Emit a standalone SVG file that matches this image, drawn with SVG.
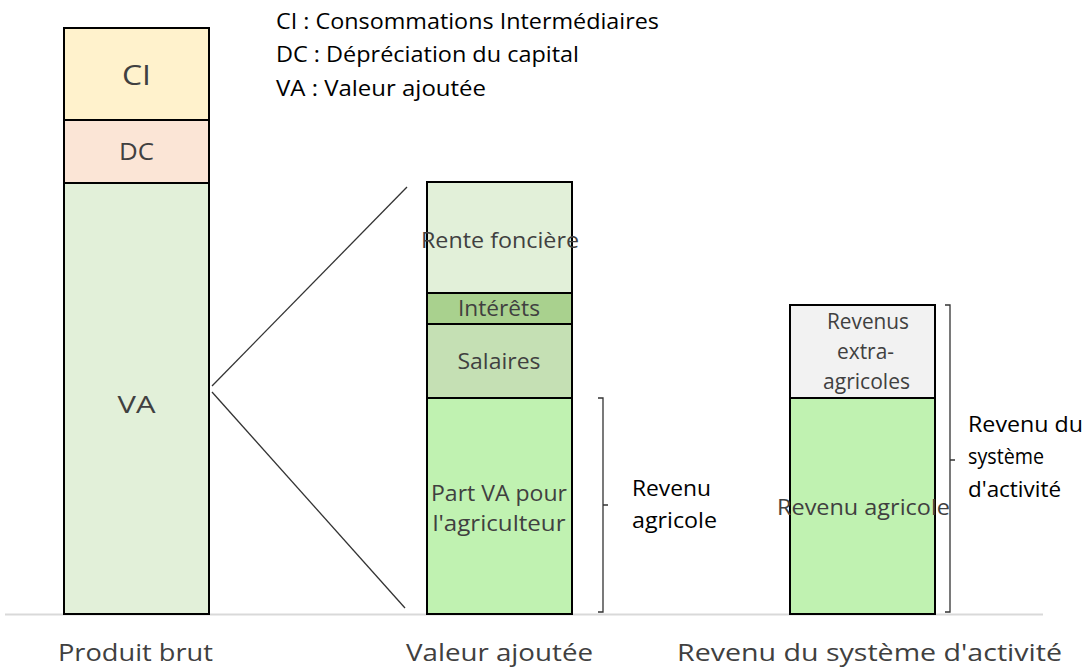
<svg xmlns="http://www.w3.org/2000/svg" width="1086" height="668" viewBox="0 0 1086 668">
<style>
.bar{stroke:#000;stroke-width:2}
.t{font-family:"Open Sans","Noto Sans",sans-serif;fill:#404040;text-anchor:middle}
.k{font-family:"Open Sans","Noto Sans",sans-serif;fill:#000}
.ln{stroke:#333;stroke-width:1.3;fill:none}
</style>
<rect width="1086" height="668" fill="#fff"/>
<line x1="5" y1="614.5" x2="1043" y2="614.5" stroke="#d9d9d9" stroke-width="2"/>
<g id="legend" class="k" font-size="21">
<text x="276" y="29" textLength="383" lengthAdjust="spacingAndGlyphs">CI : Consommations Intermédiaires</text>
<text x="276" y="62" textLength="303" lengthAdjust="spacingAndGlyphs">DC : Dépréciation du capital</text>
<text x="276" y="96" textLength="210" lengthAdjust="spacingAndGlyphs">VA : Valeur ajoutée</text>
</g>
<g id="ci"><rect class="bar" x="64" y="28" width="145" height="92" fill="#FFF2CC"/><text class="t" x="136.5" y="85" font-size="28" textLength="29" lengthAdjust="spacingAndGlyphs">CI</text></g>
<g id="dc"><rect class="bar" x="64" y="120" width="145" height="63" fill="#FBE5D6"/><text class="t" x="136.5" y="160" font-size="23" textLength="35" lengthAdjust="spacingAndGlyphs">DC</text></g>
<g id="va"><rect class="bar" x="64" y="183" width="145" height="431" fill="#E2F0D9"/><text class="t" x="136.5" y="413" font-size="23" textLength="38" lengthAdjust="spacingAndGlyphs">VA</text></g>
<g id="rente"><rect class="bar" x="427" y="182" width="145" height="111" fill="#E2F0D9"/><text class="t" x="500" y="248" font-size="21" textLength="158" lengthAdjust="spacingAndGlyphs">Rente foncière</text></g>
<g id="interets"><rect class="bar" x="427" y="293" width="145" height="31" fill="#A9D18E"/><text class="t" x="499" y="316" font-size="21" textLength="82" lengthAdjust="spacingAndGlyphs">Intérêts</text></g>
<g id="salaires"><rect class="bar" x="427" y="324" width="145" height="74" fill="#C5E0B4"/><text class="t" x="499" y="369" font-size="21" textLength="83" lengthAdjust="spacingAndGlyphs">Salaires</text></g>
<g id="partva"><rect class="bar" x="427" y="398" width="145" height="216" fill="#C0F2B1"/><text class="t" x="499" y="501" font-size="21" textLength="136" lengthAdjust="spacingAndGlyphs">Part VA pour</text><text class="t" x="499" y="531" font-size="21" textLength="133" lengthAdjust="spacingAndGlyphs">l'agriculteur</text></g>
<g id="extra"><rect class="bar" x="790" y="305" width="145" height="93" fill="#F2F2F2"/><text class="t" x="868" y="329" font-size="21" textLength="82" lengthAdjust="spacingAndGlyphs">Revenus</text><text class="t" x="865.5" y="359" font-size="21" textLength="57" lengthAdjust="spacingAndGlyphs">extra-</text><text class="t" x="866.5" y="389" font-size="21" textLength="87" lengthAdjust="spacingAndGlyphs">agricoles</text></g>
<g id="revagri"><rect class="bar" x="790" y="398" width="145" height="216" fill="#C0F2B1"/><text class="t" x="863.5" y="515" font-size="21" textLength="173" lengthAdjust="spacingAndGlyphs">Revenu agricole</text></g>
<g id="connectors">
<line class="ln" x1="212" y1="386" x2="407" y2="187"/>
<line class="ln" x1="212" y1="392" x2="405" y2="608"/>
<path class="ln" d="M598 398 H603 V505 H608 M603 505 V612 H598"/>
<path class="ln" d="M945 305 H950 V460 H955 M950 460 V612 H945"/>
</g>
<g id="label-revagri" class="k" font-size="21"><text x="632" y="496" textLength="79" lengthAdjust="spacingAndGlyphs">Revenu</text><text x="632" y="528" textLength="85" lengthAdjust="spacingAndGlyphs">agricole</text></g>
<g id="label-revsys" class="k" font-size="21"><text x="968" y="432" textLength="115" lengthAdjust="spacingAndGlyphs">Revenu du</text><text x="968" y="464" textLength="76" lengthAdjust="spacingAndGlyphs">système</text><text x="968" y="497" textLength="93" lengthAdjust="spacingAndGlyphs">d'activité</text></g>
<g id="axis-labels" class="t" font-size="23">
<text x="135.5" y="661" textLength="155" lengthAdjust="spacingAndGlyphs">Produit brut</text>
<text x="499.5" y="661" textLength="187" lengthAdjust="spacingAndGlyphs">Valeur ajoutée</text>
<text x="869.5" y="661" textLength="385" lengthAdjust="spacingAndGlyphs">Revenu du système d'activité</text>
</g>
</svg>
